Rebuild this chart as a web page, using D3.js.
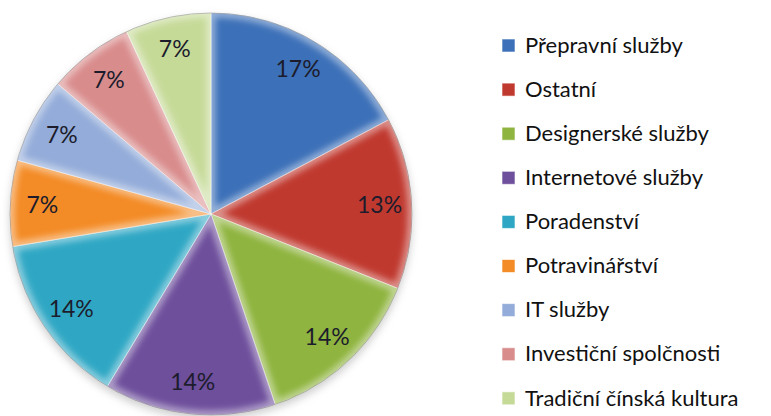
<!DOCTYPE html>
<html>
<head>
<meta charset="utf-8">
<script src="https://cdn.jsdelivr.net/npm/d3@7"></script>
<style>
  body { margin: 0; background: #fff; }
  svg { display: block; }
</style>
</head>
<body>
<div id="chart"></div>
<script>
// Data
var categories = ['Přepravní služby', 'Ostatní', 'Designerské služby', 'Internetové služby',
    'Poradenství', 'Potravinářství', 'IT služby', 'Investiční spolčnosti', 'Tradiční čínská kultura'];
var counts = [5, 4, 4, 4, 4, 2, 2, 2, 2];
var pctLabels = ['17%', '13%', '14%', '14%', '14%', '7%', '7%', '7%', '7%'];
var colors = ['#3c70b8', '#c0392f', '#8fb43f', '#6e4f9c', '#2fa7c4', '#f38b26', '#93acd9', '#d98c8c', '#c6da98'];

var width = 771;
var height = 416;
var cx = 211, cy = 214, radius = 201;

var data = categories.map(function(c, i) {
    return {name: c, value: counts[i], label: pctLabels[i], color: colors[i]};
});

var svg = d3.select('#chart')
    .append('svg')
    .attr('width', width)
    .attr('height', height);

var defs = svg.append('defs');

// blur for the edge highlight
defs.append('filter').attr('id', 'soft')
    .append('feGaussianBlur').attr('stdDeviation', 3);

// shadow under the pie
var sh = defs.append('filter').attr('id', 'shadow')
    .attr('x', '-20%').attr('y', '-20%').attr('width', '140%').attr('height', '140%');
sh.append('feGaussianBlur').attr('stdDeviation', 4);

var pie = d3.pie()
    .sort(null)
    .value(function(d) { return d.value; });

var arc = d3.arc()
    .innerRadius(0)
    .outerRadius(radius);

var labelArc = d3.arc()
    .innerRadius(radius * 0.84)
    .outerRadius(radius * 0.84);

var arcs = pie(data);

var g = svg.append('g')
    .attr('transform', 'translate(' + cx + ',' + cy + ')');

g.append('circle')
    .attr('cx', 0)
    .attr('cy', 4)
    .attr('r', radius)
    .attr('fill', '#9a9a9a')
    .attr('opacity', 0.5)
    .attr('filter', 'url(#shadow)');

// clip paths, one per slice
defs.selectAll('clipPath')
    .data(arcs)
    .enter()
    .append('clipPath')
    .attr('id', function(d, i) { return 'clip' + i; })
    .append('path')
    .attr('transform', 'translate(' + cx + ',' + cy + ')')
    .attr('d', arc);

var slices = g.selectAll('g.slice')
    .data(arcs)
    .enter()
    .append('g')
    .attr('class', 'slice');

slices.append('path')
    .attr('d', arc)
    .attr('fill', function(d) { return d.data.color; });

// bevel: light inner rim
slices.append('g')
    .attr('clip-path', function(d, i) { return 'url(#clip' + i + ')'; })
    .attr('transform', 'translate(' + (-cx) + ',' + (-cy) + ')')
    .append('path')
    .attr('transform', 'translate(' + cx + ',' + cy + ')')
    .attr('d', arc)
    .attr('fill', 'none')
    .attr('stroke', '#ffffff')
    .attr('stroke-opacity', 0.45)
    .attr('stroke-width', 9)
    .attr('filter', 'url(#soft)');

slices.append('path')
    .attr('d', arc)
    .attr('fill', 'none')
    .attr('stroke', 'rgba(255,255,255,0.5)')
    .attr('stroke-width', 1);

g.append('circle')
    .attr('r', radius)
    .attr('fill', 'none')
    .attr('stroke', 'rgba(80,80,80,0.35)')
    .attr('stroke-width', 1);

g.selectAll('text.pct')
    .data(arcs)
    .enter()
    .append('text')
    .attr('class', 'pct')
    .attr('transform', function(d) { return 'translate(' + labelArc.centroid(d) + ')'; })
    .attr('text-anchor', 'middle')
    .attr('dy', '0.35em')
    .style('font-family', 'Lato, "Open Sans", sans-serif')
    .style('font-size', '23px')
    .style('fill', '#1c1c2c')
    .text(function(d) { return d.data.label; });

// Legend
var legend = svg.append('g')
    .attr('transform', 'translate(502, 45)');

var rows = legend.selectAll('g.item')
    .data(data)
    .enter()
    .append('g')
    .attr('class', 'item')
    .attr('transform', function(d, i) { return 'translate(0,' + (i * 44.1) + ')'; });

rows.append('rect')
    .attr('x', 0)
    .attr('y', -6)
    .attr('width', 13)
    .attr('height', 13)
    .attr('fill', function(d) { return d.color; })
    .attr('stroke', 'rgba(255,255,255,0.6)')
    .attr('stroke-width', 1);

rows.append('text')
    .attr('x', 23)
    .attr('dy', '0.35em')
    .style('font-family', 'Lato, "Open Sans", sans-serif')
    .style('font-size', '22px')
    .style('fill', '#111')
    .text(function(d) { return d.name; });
</script>
</body>
</html>
